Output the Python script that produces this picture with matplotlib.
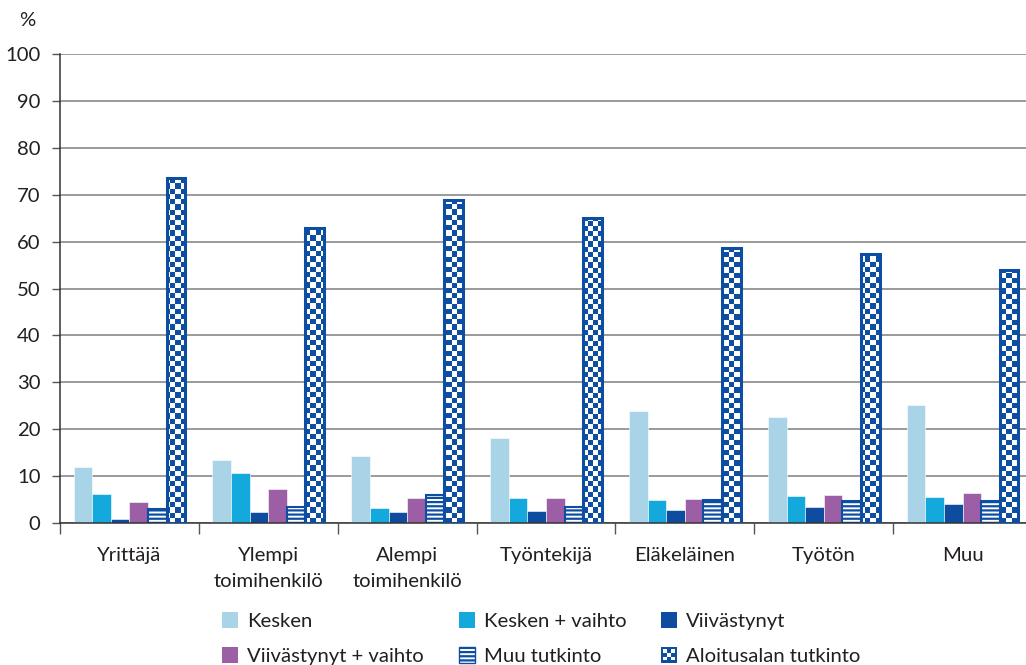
import numpy as np
import matplotlib
matplotlib.use('Agg')
import matplotlib.pyplot as plt
from matplotlib.patches import Patch, Rectangle
from matplotlib.colors import ListedColormap
from matplotlib.legend_handler import HandlerBase

plt.rcParams['font.family'] = ['Lato', 'DejaVu Sans']
plt.rcParams['hatch.linewidth'] = 1.6

# data (%)
groups = ['Yrittäjä', 'Ylempi\ntoimihenkilö', 'Alempi\ntoimihenkilö', 'Työntekijä',
          'Eläkeläinen', 'Työtön', 'Muu']
series = ['Kesken', 'Kesken + vaihto', 'Viivästynyt', 'Viivästynyt + vaihto',
          'Muu tutkinto', 'Aloitusalan tutkinto']
kesken = [11.9, 13.4, 14.2, 18.2, 23.9, 22.7, 25.2]
kesken_vaihto = [6.1, 10.6, 3.1, 5.3, 4.9, 5.8, 5.6]
viivastynyt = [0.9, 2.3, 2.4, 2.6, 2.8, 3.4, 4.0]
viivastynyt_vaihto = [4.4, 7.2, 5.3, 5.3, 5.1, 6.0, 6.5]
muu_tutkinto = [2.9, 3.5, 6.0, 3.5, 4.8, 4.7, 4.7]
aloitusala = [73.6, 62.9, 68.9, 65.0, 58.6, 57.4, 53.9]
yticks = list(range(0, 101, 10))

txt = '#231f20'
blue = '#0d4ea3'
colors = ['#a9d4e8', '#13a9dc', '#0e4c9f', '#9c5ea4']
fs = 14.6


class CheckerHandler(HandlerBase):
    # legend icon for the checkerboard series
    def create_artists(self, legend, orig_handle, xdescent, ydescent,
                       width, height, fontsize, trans):
        x0, y0 = -xdescent, -ydescent
        arts = [Rectangle((x0, y0), width, height, facecolor=blue,
                          edgecolor=blue, lw=0, transform=trans)]
        m = width * 0.14
        n = 3
        cw, ch = (width - 2 * m) / n, (height - 2 * m) / n
        for i in range(n):
            for j in range(n):
                if (i + j) % 2 == 0:
                    arts.append(Rectangle((x0 + m + i * cw, y0 + m + j * ch), cw, ch,
                                          facecolor='white', lw=0, transform=trans))
        return arts


fig = plt.figure(figsize=(10.26, 6.65), dpi=100)
ax = fig.add_axes([60 / 1026, 142 / 665, 972 / 1026, 469 / 665])

x = np.arange(len(groups))
w = 0.134
plain = [kesken, kesken_vaihto, viivastynyt, viivastynyt_vaihto]
for j, (vals, col) in enumerate(zip(plain, colors)):
    ax.bar(x + (j - 2.5) * w, vals, w, color=col, edgecolor='white', lw=0.4, zorder=2)

ax.bar(x + 1.5 * w, muu_tutkinto, w, facecolor='white', edgecolor=blue,
       hatch='----', lw=1.5, zorder=2)

bars = ax.bar(x + 2.5 * w, aloitusala, w, facecolor=blue, edgecolor=blue, lw=0, zorder=2)
ax.set_xlim(-0.5, 6.5)
ax.set_ylim(0, 100)
cell = 5.2
ny = int(ax.bbox.height / cell)
nx = int(ax.bbox.width / cell)
checker = np.indices((ny, nx)).sum(axis=0) % 2
for b in bars:
    im = ax.imshow(checker, cmap=ListedColormap(['white', blue]),
                   extent=(-0.5, 6.5, 0, 100), aspect='auto',
                   interpolation='nearest', zorder=2.5)
    im.set_clip_path(b)
ax.bar(x + 2.5 * w, aloitusala, w, facecolor='none', edgecolor=blue, lw=2.2, zorder=3)

ax.set_xlim(-0.5, 6.5)
ax.set_ylim(0, 100)
ax.set_yticks(yticks)
ax.yaxis.grid(True, color='#7f7f7f', lw=1.1)
ax.set_axisbelow(True)
for s in ['top', 'right']:
    ax.spines[s].set_visible(False)
for s in ['left', 'bottom']:
    ax.spines[s].set_color('#333333')
    ax.spines[s].set_linewidth(1.1)
ax.tick_params(axis='y', length=6, width=1, color='#555555', pad=8,
               labelsize=fs, labelcolor=txt)

ax.set_xticks(np.arange(-0.5, 7, 1), labels=[''] * 8)
ax.set_xticks(x, labels=groups, minor=True)
ax.tick_params(axis='x', which='major', length=8, width=1, color='#555555')
ax.tick_params(axis='x', which='minor', length=0, pad=17, labelsize=fs, labelcolor=txt)
for lab in ax.get_xticklabels(minor=True):
    lab.set_linespacing(1.7)

fig.text(19 / 1026, 1 - 20 / 665, '%', fontsize=fs, color=txt, ha='left', va='center')

handles = [Patch(facecolor=c, edgecolor='none') for c in colors]
handles.append(Patch(facecolor='white', edgecolor=blue, hatch='----', lw=1))
checker_handle = Patch(facecolor=blue)
handles.append(checker_handle)
order = [0, 3, 1, 4, 2, 5]
fig.legend([handles[i] for i in order], [series[i] for i in order],
           handler_map={checker_handle: CheckerHandler()},
           loc='upper left', bbox_to_anchor=(222 / 1026, 1 - 612 / 665),
           ncol=3, frameon=False, fontsize=fs, labelcolor=txt,
           handlelength=0.8, handleheight=0.8, handletextpad=0.45,
           columnspacing=1.7, labelspacing=0.85, borderpad=0, borderaxespad=0)

fig.savefig('out.png', dpi=100)
